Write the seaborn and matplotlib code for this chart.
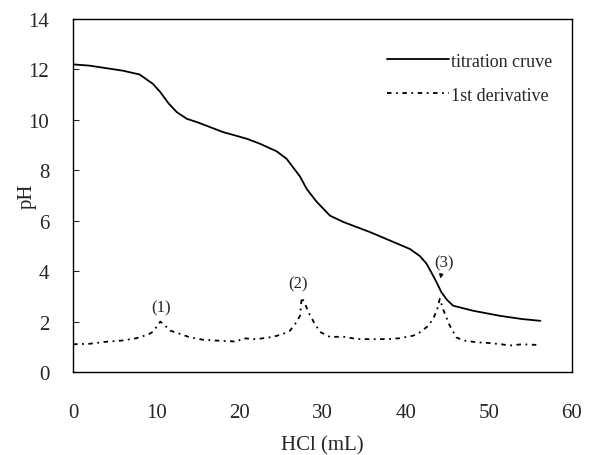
import matplotlib
matplotlib.use("Agg")
import matplotlib.pyplot as plt
import seaborn as sns
import pandas as pd

# Titration curve (HCl volume mL, pH)
tit_x = [0, 2, 4, 6, 8, 9.6, 10.5, 11.5, 12.5, 13.7, 15, 18, 20.9, 22.5, 24.5,
         25.7, 26.5, 27.3, 28.1, 29.3, 30.9, 32.5, 35.7, 38.5, 40.5, 41.7, 42.5,
         43.3, 43.8, 44.3, 45.0, 45.7, 48.1, 51.3, 54, 56.2]
tit_y = [12.2, 12.15, 12.05, 11.95, 11.8, 11.43, 11.1, 10.65, 10.3, 10.04, 9.9,
         9.52, 9.25, 9.05, 8.75, 8.45, 8.1, 7.75, 7.26, 6.75, 6.2, 5.95, 5.55,
         5.16, 4.88, 4.6, 4.3, 3.82, 3.5, 3.16, 2.85, 2.63, 2.43, 2.23, 2.1, 2.03]

# First derivative curve
der_x = [0, 2, 4, 6, 7.6, 9, 9.6, 10.5, 11.2, 11.7, 12.9, 14, 15.6, 17, 19, 19.7,
         20.4, 22, 24, 25.2, 26.1, 26.8, 27.3, 27.5, 27.9, 28.3, 29.0, 29.7, 30.9,
         32.5, 34.1, 36, 38.1, 39.3, 40.9, 41.7, 42.6, 43.3, 43.8, 44.1, 44.6,
         45.3, 46.1, 47, 48.5, 50, 51.5, 52.5, 54, 56.1]
der_y = [1.1, 1.12, 1.2, 1.25, 1.34, 1.48, 1.59, 2.0, 1.8, 1.64, 1.51, 1.38, 1.28,
         1.25, 1.22, 1.2, 1.34, 1.3, 1.39, 1.5, 1.64, 1.95, 2.23, 2.96, 2.7, 2.38,
         1.95, 1.59, 1.39, 1.4, 1.31, 1.3, 1.31, 1.34, 1.44, 1.57, 1.8, 2.1, 2.5,
         2.9, 2.4, 1.84, 1.37, 1.25, 1.18, 1.15, 1.1, 1.05, 1.1, 1.07]

peak_labels = ["(1)", "(2)", "(3)"]
peak_lx = [10.6, 27.0, 44.6]
peak_ly = [2.55, 3.5, 4.35]

x_ticks = [0, 10, 20, 30, 40, 50, 60]
y_ticks = [0, 2, 4, 6, 8, 10, 12, 14]

sns.set_style("white")
plt.rcParams["font.family"] = ["Liberation Serif", "DejaVu Serif"]

fig = plt.figure(figsize=(5.91, 4.56), dpi=100)
ax = fig.add_axes([73/591, 1-373/456, (572-73)/591, (373-20)/456])

df_t = pd.DataFrame({"x": tit_x, "y": tit_y})
df_d = pd.DataFrame({"x": der_x, "y": der_y})
sns.lineplot(data=df_t, x="x", y="y", ax=ax, color="black", lw=1.3,
             sort=False, label="titration cruve")
sns.lineplot(data=df_d, x="x", y="y", ax=ax, color="black", lw=1.3,
             sort=False, label="1st derivative", linestyle=(0, (2.5, 2.5, 1, 2.5)))

for t, lx, ly in zip(peak_labels, peak_lx, peak_ly):
    ax.text(lx, ly, t, ha="center", va="center", fontsize=12)
ax.annotate("", xy=(44.1, 3.6), xytext=(44.35, 4.0),
            arrowprops=dict(arrowstyle="-|>", color="black", lw=0.8,
                            mutation_scale=6))

ax.set_xlim(0, 60)
ax.set_ylim(0, 14)
ax.set_xticks(x_ticks)
ax.set_yticks(y_ticks)
ax.tick_params(axis="x", length=0, pad=22, labelsize=15)
ax.tick_params(axis="y", direction="in", length=4, width=0.8, pad=17, labelsize=15,
               left=True)
ax.set_xlabel("HCl (mL)", fontsize=15, labelpad=10)
ax.set_ylabel("pH", fontsize=15, labelpad=-6)
for s in ax.spines.values():
    s.set_visible(True)
    s.set_color("black")
    s.set_linewidth(1.0)

leg = ax.legend(loc="upper left", bbox_to_anchor=(0.63, 0.905), frameon=False,
                fontsize=13, handlelength=3.4, handletextpad=0.15,
                labelspacing=0.95, borderpad=0, borderaxespad=0)

fig.savefig("out.png", dpi=100)
